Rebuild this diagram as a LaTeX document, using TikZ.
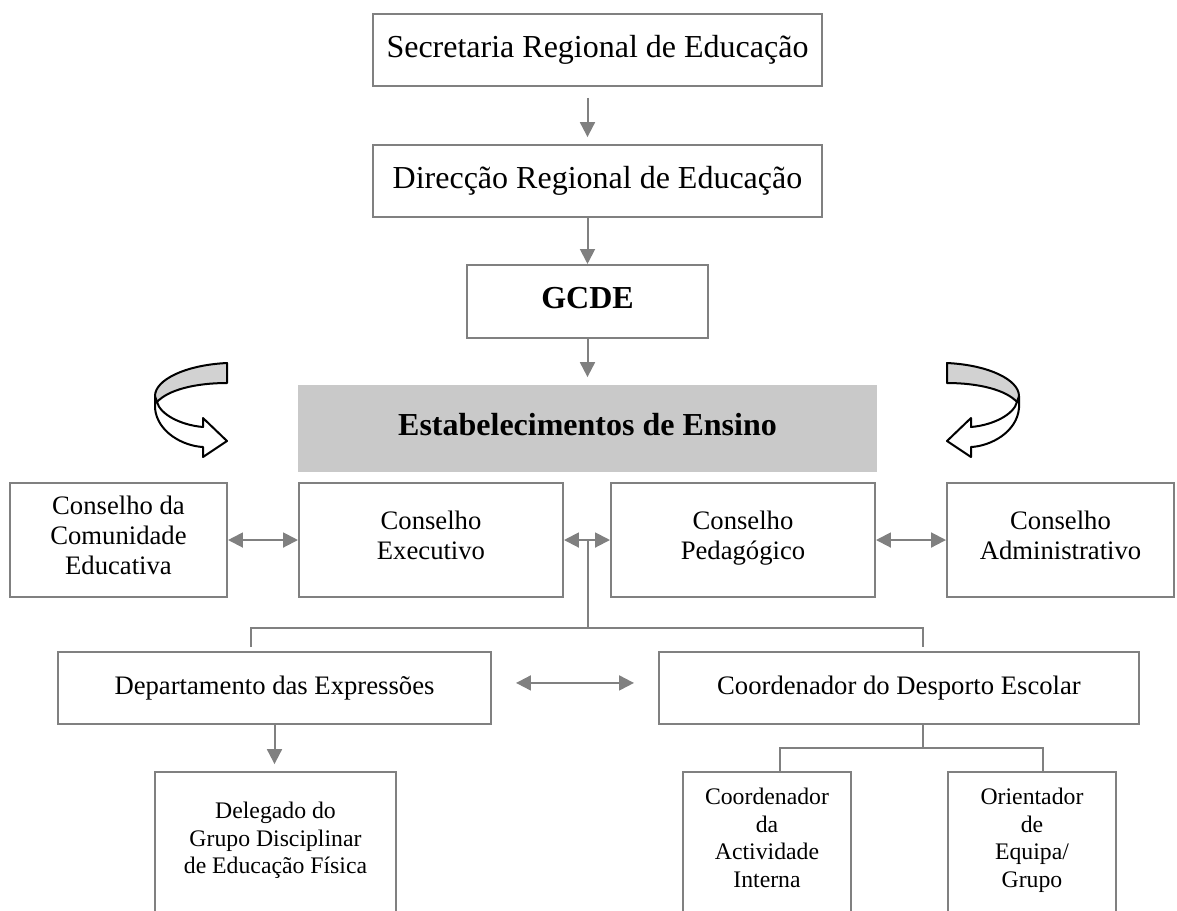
\documentclass[tikz,border=0pt]{standalone}
\usepackage{fontspec}
\setmainfont{Liberation Serif}
\usetikzlibrary{arrows.meta}
\definecolor{frame}{HTML}{808080}
\definecolor{tint}{HTML}{C9C9C9}
\definecolor{band}{HTML}{D2D2D2}
\tikzset{box/.style={draw=frame,line width=0.75pt,fill=white,align=center,inner sep=0pt,execute at begin node=\strut,execute at end node=\strut}, big/.style={box,font=\fontsize{12}{14}\selectfont,minimum width=168.4pt,minimum height=27pt}, mid/.style={box,font=\fontsize{10}{11.25}\selectfont,minimum height=42.75pt}, low/.style={box,font=\fontsize{10}{11.25}\selectfont,minimum height=27pt}, small/.style={box,font=\fontsize{8.9}{10.4}\selectfont,minimum height=52.5pt}, arr/.style={->,line width=0.75pt,draw=frame}, dbl/.style={<->,line width=0.75pt,draw=frame}, link/.style={draw=frame,line width=0.75pt}, bendline/.style={draw=black,line width=0.75pt,line join=round}, bendarrow/.pic={\filldraw[bendline,fill=white](0,33)--(0,45)..controls(2,69)and(28,83)..(48,84)--(48,94)--(72,78)--(48,55)--(48,64)..controls(25,62)and(5,51)..(2,39)--cycle; \filldraw[bendline,fill=band](72,0)..controls(30,2)and(0,17)..(0,33)--(2,39)..controls(13,27)and(40,20)..(72,20)--cycle;}}

\begin{document}
\begin{tikzpicture}[x=0.375pt,y=-0.375pt,>={Triangle[length=5.6pt,width=5.6pt]}]
\clip(0,0)rectangle(1177,910);
\node[big](sre)at(597.5,50){Secretaria Regional de Educação};\node[big](dre)at(597.5,181){Direcção Regional de Educação};
\node[big,font=\fontsize{12}{14}\selectfont\bfseries,minimum width=90.4pt,minimum height=27.4pt](gcde)at(587.5,301.5){GCDE};
\node[big,draw=none,fill=tint,font=\fontsize{12}{14}\selectfont\bfseries,minimum width=217.1pt,minimum height=32.6pt](estab)at(587.5,428.5){Estabelecimentos de Ensino};
\node[mid,minimum width=81.4pt](cce)at(118.5,540){Conselho da\\Comunidade\\Educativa};\node[mid,minimum width=99pt](exec)at(431,540){Conselho\\Executivo};
\node[mid,minimum width=99pt](ped)at(743,540){Conselho\\Pedagógico};\node[mid,minimum width=85.1pt](adm)at(1060.5,540){Conselho\\Administrativo};
\node[low,minimum width=162.4pt](dept)at(274.5,688){Departamento das Expressões};\node[low,minimum width=180pt](cde)at(899,688){Coordenador do Desporto Escolar};
\node[small,minimum width=90.4pt](deleg)at(275.5,842){Delegado do\\Grupo Disciplinar\\de Educação Física};
\node[small,minimum width=63pt](cai)at(767,842){Coordenador\\da\\Actividade\\Interna};\node[small,minimum width=63pt](oeg)at(1032,842){Orientador\\de\\Equipa/\\Grupo};
\pic at(155,363){bendarrow};\pic[xscale=-1]at(1019,363){bendarrow};
\draw[arr,shorten <=4.1pt,shorten >=2.6pt](sre.south -| gcde.north)--(dre.north -| gcde.north);
\draw[arr](dre.south -| gcde.north)--(gcde.north);\draw[arr,shorten >=2.6pt](gcde)--(estab);
\draw[dbl](cce)--(exec);\draw[dbl](exec)--(ped);\draw[dbl](ped)--(adm);
\coordinate(jm)at(587.5,628);\coordinate(jl)at(251,628);\coordinate(jr)at(923,628);\coordinate(dl)at(251,647);\coordinate(dr)at(923,647);
\draw[link](gcde |- exec)--(jm);\draw[link](dl)--(jl)--(jr)--(dr);
\draw[dbl,shorten <=9pt,shorten >=9pt]([yshift=1.9pt]dept.east)--([yshift=1.9pt]cde.west);
\draw[arr,shorten >=2.6pt](dept.south)--(dept.south |- deleg.north);
\coordinate(km)at(923,748);\coordinate(kl)at(780,748);\coordinate(kr)at(1043,748);
\draw[link](cde.south -| km)--(km);\draw[link](kl |- cai.north)--(kl)--(kr)--(kr |- oeg.north);
\end{tikzpicture}
\end{document}
